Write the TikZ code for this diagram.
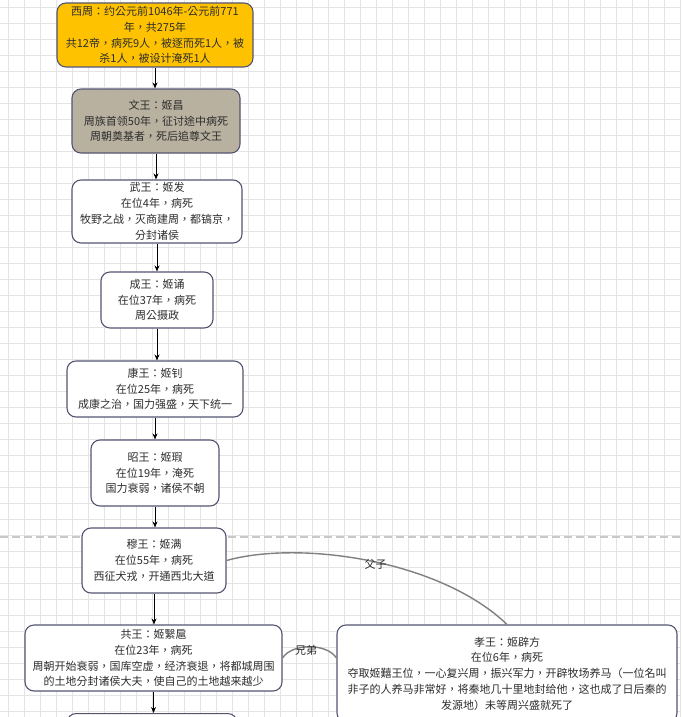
\documentclass[tikz,border=0pt]{standalone}
\usepackage{fontspec}
\newfontfamily\cjk{Noto Sans CJK TC}
\usetikzlibrary{arrows.meta}
\definecolor{gridc}{RGB}{228,228,228}
\definecolor{boxline}{RGB}{85,85,115}
\definecolor{gold}{RGB}{255,194,0}
\definecolor{taupe}{RGB}{185,177,160}
\definecolor{txt}{RGB}{45,45,45}
\definecolor{curvec}{RGB}{128,128,128}
\definecolor{dashc}{RGB}{200,200,200}
\begin{document}
\begin{tikzpicture}[x=1pt,y=-1pt,
 box/.style={draw=boxline, line width=1.1pt, rounded corners=9pt, fill=white, align=center,
   font=\cjk\fontsize{11}{15.8}\selectfont, text=txt, inner sep=0pt},
 flow/.style={-{Stealth[length=6pt,width=5pt]}, line width=0.9pt, black},
 rel/.style={draw=curvec, line width=1.4pt},
 lbl/.style={font=\cjk\fontsize{11}{13}\selectfont, text=txt, inner sep=0pt}]
\useasboundingbox (0,0) rectangle (681,717);
\clip (0,0) rectangle (681,717);
\fill[white] (0,0) rectangle (681,717);
\foreach \x in {8,24,...,680} \draw[gridc, line width=0.8pt] (\x,0) -- (\x,717);
\foreach \y in {7,23,...,716} \draw[gridc, line width=0.8pt] (0,\y) -- (681,\y);
\draw[dashc, line width=1.3pt, dash pattern=on 8pt off 4pt] (0,537) -- (681,537);

\node[box, fill=gold, minimum width=196pt, minimum height=64pt] (xz) at (155,35)
 {西周：约公元前1046年-公元前771\\年，共275年\\共12帝，病死9人，被逐而死1人，被\\杀1人，被设计淹死1人};
\node[box, fill=taupe, minimum width=168pt, minimum height=64pt] (wen) at (156,121)
 {文王：姬昌\\周族首领50年，征讨途中病死\\周朝奠基者，死后追尊文王};
\node[box, minimum width=170pt, minimum height=63pt] (wu) at (157,211.5)
 {武王：姬发\\在位4年，病死\\牧野之战，灭商建周，都镐京，\\分封诸侯};
\node[box, minimum width=112pt, minimum height=56pt] (cheng) at (157,300)
 {成王：姬诵\\在位37年，病死\\周公摄政};
\node[box, minimum width=176pt, minimum height=56pt] (kang) at (155,389)
 {康王：姬钊\\在位25年，病死\\成康之治，国力强盛，天下统一};
\node[box, minimum width=128pt, minimum height=66pt] (zhao) at (155,473)
 {昭王：姬瑕\\在位19年，淹死\\国力衰弱，诸侯不朝};
\node[box, minimum width=144pt, minimum height=65pt] (mu) at (154,560.5)
 {穆王：姬满\\在位55年，病死\\西征犬戎，开通西北大道};
\node[box, minimum width=257pt, minimum height=66pt] (gong) at (153.5,658)
 {共王：姬繄扈\\在位23年，病死\\周朝开始衰弱，国库空虚，经济衰退，将都城周围\\的土地分封诸侯大夫，使自己的土地越来越少};
\node[box, minimum width=340pt, minimum height=97pt] (xiao) at (507,673.5)
 {孝王：姬辟方\\在位6年，病死\\夺取姬囏王位，一心复兴周，振兴军力，开辟牧场养马（一位名叫\\非子的人养马非常好，将秦地几十里地封给他，这也成了日后秦的\\发源地）未等周兴盛就死了};
\node[box, minimum width=170pt, minimum height=60pt, anchor=north] (next) at (152,713) {};

\draw[flow] (xz.south) -- (xz.south |- wen.north);
\draw[flow] (wen.south) -- (wen.south |- wu.north);
\draw[flow] (wu.south) -- (wu.south |- cheng.north);
\draw[flow] (cheng.south) -- (cheng.south |- kang.north);
\draw[flow] (kang.south) -- (kang.south |- zhao.north);
\draw[flow] (zhao.south) -- (zhao.south |- mu.north);
\draw[flow] (mu.south) -- (mu.south |- gong.north);
\draw[flow] (gong.south) -- (gong.south |- next.north);

\draw[rel] (mu.east) .. controls (300,540) and (440,560) .. (xiao.north)
  node[lbl, pos=0.52, yshift=-2pt] {父子};
\coordinate (xw) at (xiao.west |- gong.east);
\draw[rel] (gong.east) .. controls (292,643) and (327,643) .. (xw)
  node[lbl, pos=0.45, yshift=-3pt] {兄弟};
\end{tikzpicture}
\end{document}
